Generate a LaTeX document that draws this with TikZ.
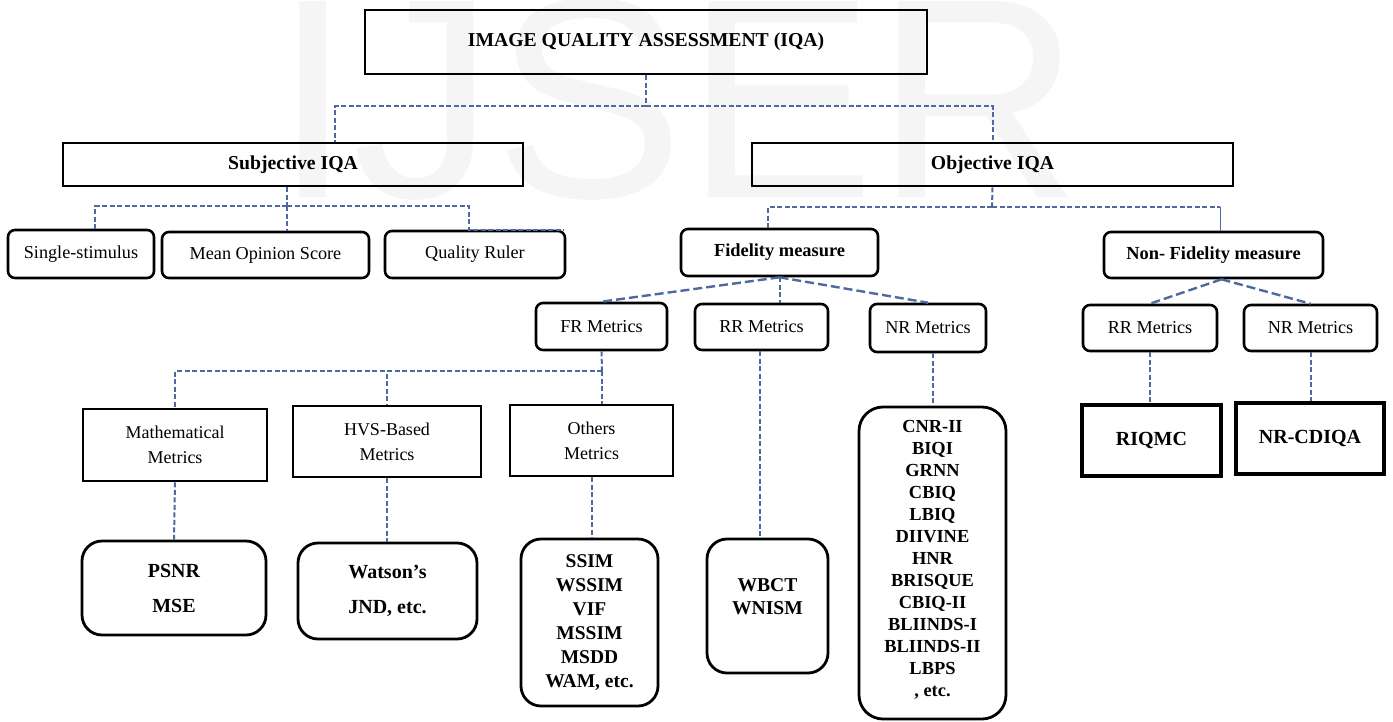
\documentclass[tikz,border=0pt]{standalone}
\usepackage{fontspec}
\setmainfont{Liberation Serif}
\newfontfamily\markfont{Liberation Sans}
\usetikzlibrary{positioning}
\definecolor{linkblue}{RGB}{76,106,160}

\tikzset{
  headbox/.style={draw, line width=2.8, inner sep=2, font=\fontsize{19.7}{23}\selectfont\bfseries},
  catbox/.style={draw, line width=2.6, rounded corners=7, inner sep=2, font=\fontsize{18.2}{22}\selectfont},
  boldcat/.style={catbox, font=\fontsize{18.4}{22}\selectfont\bfseries},
  metricbox/.style={draw, line width=2.6, inner sep=2, align=center, font=\fontsize{18}{25}\selectfont},
  listbox/.style={draw, line width=2.8, rounded corners=20, inner sep=2, align=center, font=\fontsize{19.5}{24}\selectfont\bfseries},
  namebox/.style={draw, line width=3.4, inner sep=2, font=\fontsize{20}{24}\selectfont\bfseries},
  link/.style={draw=linkblue, line width=2, dash pattern=on 5pt off 2.5pt},
  thinlink/.style={draw=linkblue, line width=1},
  fan/.style={draw=linkblue, line width=2.4, dash pattern=on 9pt off 4pt},
}

\begin{document}
\begin{tikzpicture}[x=1pt, y=-1pt]
    \useasboundingbox (0,0) rectangle (1393,721);
    % watermark
    \node (mark) [anchor=base west, inner sep=0, text=black!4, font=\markfont\fontsize{285}{285}\selectfont] at (273,197) {IJSER};

    % top levels
    \node (iqa) [headbox, minimum width=562, minimum height=64] at (646,42) {IMAGE QUALITY ASSESSMENT (IQA)};
    \node (subj) [headbox, minimum width=460, minimum height=43] at (293,164.5) {Subjective IQA};
    \node (obj) [headbox, minimum width=481, minimum height=43] at (992.5,164.5) {Objective IQA};

    % subjective methods
    \node (single) [catbox, minimum width=146, minimum height=48] at (81,254) {Single-stimulus};
    \node (mos) [catbox, minimum width=207, minimum height=46] at (265.5,255) {Mean Opinion Score};
    \node (ruler) [catbox, minimum width=180, minimum height=47] at (475,254.5) {Quality Ruler};

    % objective methods
    \node (fid) [boldcat, minimum width=197, minimum height=47] at (779.5,252.5) {Fidelity measure};
    \node (nonfid) [boldcat, minimum width=219, minimum height=46] at (1213.5,255) {Non- Fidelity measure};

    \node (fr) [catbox, minimum width=131, minimum height=47] at (601.5,326.5) {FR Metrics};
    \node (rrf) [catbox, minimum width=133, minimum height=46] at (761.5,327) {RR Metrics};
    \node (nrf) [catbox, minimum width=116, minimum height=48] at (928,328) {NR Metrics};
    \node (rrn) [catbox, minimum width=134, minimum height=46] at (1150,328) {RR Metrics};
    \node (nrn) [catbox, minimum width=133, minimum height=46] at (1310.5,328) {NR Metrics};

    % FR families
    \node (math) [metricbox, minimum width=184, minimum height=72] at (175,445) {Mathematical\\Metrics};
    \node (hvs) [metricbox, minimum width=188, minimum height=71] at (387,441.5) {HVS-Based\\Metrics};
    \node (others) [metricbox, minimum width=163, minimum height=71] at (591.5,440.5) {Others\\Metrics};

    % examples
    \node (psnr) [listbox, minimum width=184, minimum height=94, font=\fontsize{20}{35}\selectfont\bfseries] at (174,588) {PSNR\\MSE};
    \node (watson) [listbox, minimum width=179, minimum height=96, font=\fontsize{20}{35}\selectfont\bfseries] at (387.5,591) {Watson's\\JND, etc.};
    \node (ssim) [listbox, minimum width=137, minimum height=167] at (589.5,622.5) {SSIM\\WSSIM\\VIF\\MSSIM\\MSDD\\WAM, etc.};
    \node (wbct) [listbox, minimum width=121, minimum height=134, font=\fontsize{19.6}{23}\selectfont\bfseries] at (767.5,606) {WBCT\\WNISM\\[-4pt]\mbox{}};
    \node (cnr) [listbox, rounded corners=24, minimum width=147, minimum height=312, font=\fontsize{18.4}{22}\selectfont\bfseries] at (932.5,563) {CNR-II\\BIQI\\GRNN\\CBIQ\\LBIQ\\DIIVINE\\HNR\\BRISQUE\\CBIQ-II\\BLIINDS-I\\BLIINDS-II\\LBPS\\, etc.\\[-12pt]\mbox{}};
    \node (riqmc) [namebox, minimum width=139, minimum height=71] at (1151.5,440.5) {RIQMC};
    \node (nrcdiqa) [namebox, minimum width=148, minimum height=71] at (1310,438.5) {NR-CDIQA};

    % connectors
    \coordinate (topbus) at (646,106);
    \coordinate (subjbus) at (287,206);
    \coordinate (objbus) at (992,207);
    \coordinate (nfturn) at (1220,207);
    \coordinate (frbus) at (602,371);

    \draw[link] (iqa.south) -- (topbus);
    \draw[link] (topbus) -| ([xshift=42]subj.north);
    \draw[link] (topbus) -| (obj.north);

    \draw[link] ([xshift=-6]subj.south) -- (subjbus);
    \draw[link] (subjbus) -| ([xshift=14]single.north);
    \draw[link] (subjbus) -- (subjbus |- mos.north);
    \draw[link] (subjbus) -| ([xshift=-6]ruler.north) -- ([xshift=-2]ruler.north east);

    \draw[link] (obj.south) -- (objbus);
    \draw[link] (objbus) -| ([xshift=-11.5]fid.north);
    \draw[link] (objbus) -- (nfturn);
    \draw[thinlink] (nfturn) -- (nfturn |- nonfid.north);

    \draw[fan] (fid.south) -- (fr.north);
    \draw[link] (fid.south) -- (fid.south |- rrf.north);
    \draw[fan] (fid.south) -- (nrf.north);
    \draw[fan] ([xshift=8]nonfid.south) -- (rrn.north);
    \draw[fan] ([xshift=8]nonfid.south) -- (nrn.north);

    \draw[link] (fr.south) -- (frbus);
    \draw[link] (frbus) -| (math.north);
    \draw[link] (frbus) -| (hvs.north);
    \draw[link] (frbus) -- (frbus |- others.north);

    \draw[link] (math.south) -- (psnr.north);
    \draw[link] (hvs.south) -- (hvs.south |- watson.north);
    \draw[link] (others.south) -- (others.south |- ssim.north);
    \draw[link] ([xshift=-1.5]rrf.south) -- ([xshift=-1.5]rrf.south |- wbct.north);
    \draw[link] (cnr.north |- nrf.south) -- (cnr.north);
    \draw[link] (rrn.south) -- (rrn.south |- riqmc.north);
    \draw[link] (nrn.south) -- (nrn.south |- nrcdiqa.north);
\end{tikzpicture}
\end{document}
